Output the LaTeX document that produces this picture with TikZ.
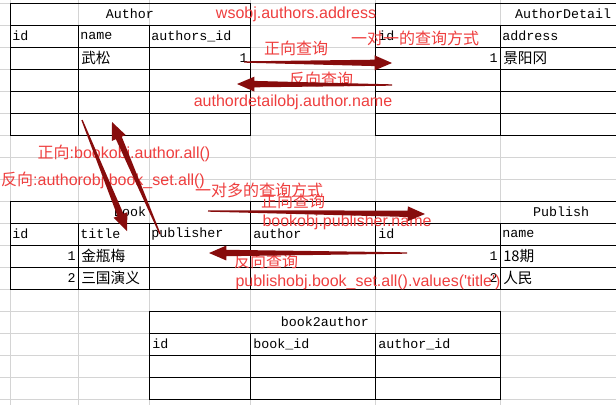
\documentclass[tikz,border=0pt]{standalone}
\usepackage{fontspec}
\setmainfont{Liberation Sans}
\setmonofont{Liberation Mono}
\newfontfamily\cjk{Noto Sans CJK SC}
\usetikzlibrary{calc}
\definecolor{cnote}{RGB}{238,62,62}
\definecolor{carrow}{RGB}{135,12,12}
\definecolor{cgrid}{RGB}{212,212,212}

\begin{document}
\begin{tikzpicture}[x=0.75pt,y=-0.75pt,
  gridline/.style={cgrid,line width=0.75pt},
  tbl/.style={black,line width=0.75pt},
  cell/.style={anchor=west,inner sep=0pt,font=\ttfamily\fontsize{10}{12}\selectfont},
  num/.style={cell,anchor=east},
  title/.style={cell,anchor=center},
  zh/.style={anchor=west,inner sep=0pt,font=\cjk\fontsize{11}{13}\selectfont},
  note/.style={inner sep=0pt,text=cnote,font=\fontsize{12}{14}\selectfont}]
  \useasboundingbox (0,0) rectangle (616,405);
  % brush arrow: \brush{tail}{tip}
  \newcommand{\brush}[2]{\fill[carrow] ($(#1)!0.5pt!90:(#2)$)
     -- ($(#2)!13pt!(#1)!2.4pt!90:(#2)$) -- ($(#2)!13pt!(#1)!5.6pt!90:(#2)$) -- (#2)
     -- ($(#2)!13pt!(#1)!5.6pt!-90:(#2)$) -- ($(#2)!13pt!(#1)!2.4pt!-90:(#2)$)
     -- ($(#1)!0.5pt!-90:(#2)$) -- cycle;}
  % spreadsheet grid
  \foreach \y in {3,25,...,399} \draw[gridline] (0,\y) -- (616,\y);
  \foreach \x in {10,78,149,250,375,500} \draw[gridline] (\x,0) -- (\x,405);
  % --- Author ---
  \draw[tbl] (10,3) rectangle (250,135);
  \foreach \y in {25,47,...,113} \draw[tbl] (10,\y) -- (250,\y);
  \foreach \x in {78,149} \draw[tbl] (\x,25) -- (\x,135);
  \node[title] (tAuthor) at (130,14) {Author};
  \node[cell] (aId) at (12,36) {id};
  \node[cell] (aName) at (80,36) {name};
  \node[cell] (aAid) at (151,36) {authors\_id};
  \node[zh] (aNameV) at (81,58) {武松};
  \node[num] (aAidV) at (248,58) {1};
  % --- AuthorDetail ---
  \draw[tbl] (616,3) -- (375,3) -- (375,135) -- (616,135);
  \foreach \y in {25,47,...,113} \draw[tbl] (375,\y) -- (616,\y);
  \draw[tbl] (500,25) -- (500,135);
  \node[title] (tDetail) at (563,14) {AuthorDetail};
  \node[cell] (dId) at (378,36) {id};
  \node[cell] (dAddr) at (502,36) {address};
  \node[num] (dIdV) at (498,58) {1};
  \node[zh] (dAddrV) at (503,58) {景阳冈};
  % --- Book ---
  \draw[tbl] (10,201) rectangle (375,289);
  \foreach \y in {223,245,267} \draw[tbl] (10,\y) -- (375,\y);
  \foreach \x in {78,149} \draw[tbl] (\x,223) -- (\x,289);
  \draw[tbl] (250,201) -- (250,289);
  \node[title] (tBook) at (130,212) {Book};
  \node[cell] (bId) at (12,234) {id};
  \node[cell] (bTitle) at (80,234) {title};
  \node[cell] (bPub) at (151,234) {publisher};
  \node[cell] (bAuth) at (253,234) {author};
  \node[num] (bIdA) at (76,256) {1};
  \node[zh] (bTitleA) at (81,256) {金瓶梅};
  \node[num] (bIdB) at (76,278) {2};
  \node[zh] (bTitleB) at (81,278) {三国演义};
  % --- Publish ---
  \draw[tbl] (616,201) -- (375,201) -- (375,289) -- (616,289);
  \foreach \y in {223,245,267} \draw[tbl] (375,\y) -- (616,\y);
  \draw[tbl] (500,223) -- (500,289);
  \node[title] (tPublish) at (561,212) {Publish};
  \node[cell] (pId) at (378,234) {id};
  \node[cell] (pName) at (502,234) {name};
  \node[num] (pIdA) at (498,256) {1};
  \node[zh] (pNameA) at (503,256) {18期};
  \node[num] (pIdB) at (498,278) {2};
  \node[zh] (pNameB) at (503,278) {人民};
  % --- book2author ---
  \draw[tbl] (149,311) rectangle (500,399);
  \foreach \y in {333,355,377} \draw[tbl] (149,\y) -- (500,\y);
  \foreach \x in {250,375} \draw[tbl] (\x,333) -- (\x,399);
  \node[title] (tLink) at (325,322) {book2author};
  \node[cell] (lId) at (152,344) {id};
  \node[cell] (lBook) at (253,344) {book\_id};
  \node[cell] (lAuth) at (378,344) {author\_id};
  % --- query notes ---
  \node[note] (nWs) at (296,14) {wsobj.authors.address};
  \node[note] (nFwdA) at (296,48) {\cjk 正向查询};
  \node[note] (nOneOne) at (415,38) {\cjk 一对一的查询方式};
  \node[note] (nBackA) at (321,79) {\cjk 反向查询};
  \node[note] (nDetail) at (293,102) {authordetailobj.author.name};
  \node[note] (nBookAuth) at (124,153) {{\cjk 正向}:bookobj.author.all()};
  \node[note] (nAuthBook) at (103,180) {{\cjk 反向}:authorobj.book\_set.all()};
  \node[note] (nOneMany) at (259,190) {\cjk 一对多的查询方式};
  \node[note] (nFwdB) at (293,201) {\cjk 正向查询};
  \node[note] (nPubObj) at (347,222) {bookobj.publisher.name};
  \node[note] (nBackB) at (266,261) {\cjk 反向查询};
  \node[note] (nPubBook) at (368,282) {publishobj.book\_set.all().values(\textquotesingle title\textquotesingle)};
  % --- arrows ---
  \coordinate (fwdAt) at (244,62);  \coordinate (fwdAh) at (392,63);
  \coordinate (backAt) at (392,85); \coordinate (backAh) at (237,84);
  \coordinate (mmAt) at (82,120);   \coordinate (mmAh) at (127,231);
  \coordinate (mmBt) at (160,234);  \coordinate (mmBh) at (112,122);
  \coordinate (fwdBt) at (208,211); \coordinate (fwdBh) at (425,214);
  \coordinate (backBt) at (407,253); \coordinate (backBh) at (209,253);
  \brush{fwdAt}{fwdAh}
  \brush{backAt}{backAh}
  \brush{mmAt}{mmAh}
  \brush{mmBt}{mmBh}
  \brush{fwdBt}{fwdBh}
  \brush{backBt}{backBh}
\end{tikzpicture}
\end{document}
